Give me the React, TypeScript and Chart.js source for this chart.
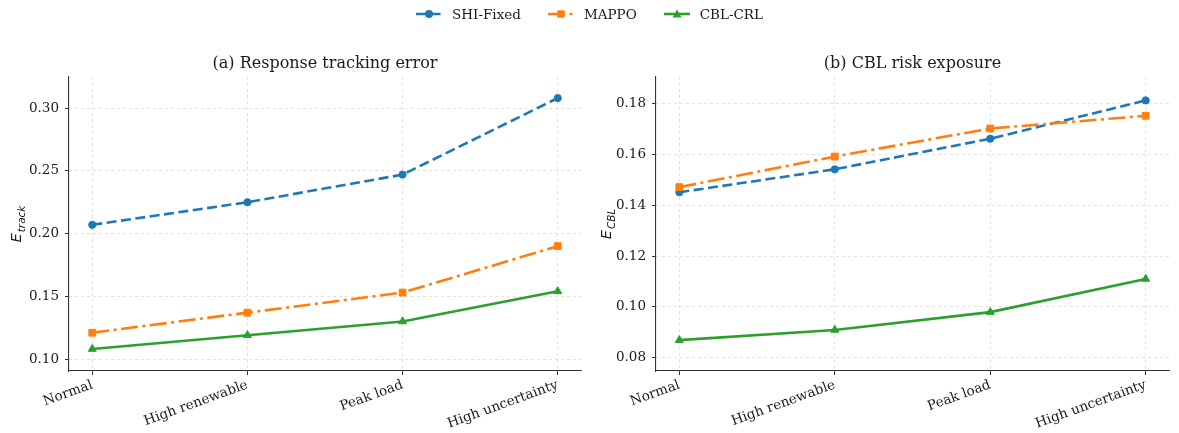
import { useEffect, useRef } from "react";
import { Chart, registerables } from "chart.js";

Chart.register(...registerables);

// scenario categories on the x axis
const categories = ["Normal", "High renewable", "Peak load", "High uncertainty"];
const seriesNames = ["SHI-Fixed", "MAPPO", "CBL-CRL"];

// (a) response tracking error
const trackShi = [0.207, 0.225, 0.247, 0.308];
const trackMappo = [0.121, 0.137, 0.153, 0.19];
const trackCbl = [0.108, 0.119, 0.13, 0.154];
const trackTicks = [0.1, 0.15, 0.2, 0.25, 0.3];

// (b) CBL risk exposure
const cblShi = [0.145, 0.154, 0.166, 0.181];
const cblMappo = [0.147, 0.159, 0.17, 0.175];
const cblCbl = [0.087, 0.091, 0.098, 0.111];
const cblTicks = [0.08, 0.1, 0.12, 0.14, 0.16, 0.18];

const colors = ["#1f77b4", "#ff7f0e", "#2ca02c"];
const dashes = [[10, 4.5], [17, 4.5, 3, 4.5], []];
const pointStyles = ["circle", "rect", "triangle"];
const pointRadii = [3.6, 4.8, 4.6];

const serif = '"DejaVu Serif", serif';
const textColor = "#1a1a1a";
const axisColor = "#333";
const gridColor = "rgba(176,176,176,0.45)";
const tickSize = 13.5;

type PanelProps = {
  left: number;
  width: number;
  title: string;
  sub: string;
  values: number[][];
  yTicks: number[];
  yMin: number;
  yMax: number;
  yWidth: number;
  padRight: number;
};

function Panel(props: PanelProps) {
  const canvasRef = useRef<HTMLCanvasElement | null>(null);

  useEffect(() => {
    if (!canvasRef.current) return;
    const { title, sub, values, yTicks, yMin, yMax, yWidth, padRight } = props;

    // panel title + mathtext-like y label (E with subscript)
    const textPlugin = {
      id: "panelText",
      afterDraw(chart: any) {
        const { ctx, chartArea } = chart;
        ctx.save();
        ctx.fillStyle = textColor;
        ctx.font = `16px ${serif}`;
        ctx.textAlign = "center";
        ctx.textBaseline = "middle";
        ctx.fillText(title, (chartArea.left + chartArea.right) / 2, 64);

        const cy = (chartArea.top + chartArea.bottom) / 2;
        ctx.translate(16, cy);
        ctx.rotate(-Math.PI / 2);
        ctx.textAlign = "left";
        ctx.textBaseline = "alphabetic";
        ctx.font = 'italic 14.5px "DejaVu Sans"';
        const eW = ctx.measureText("E").width;
        ctx.font = 'italic 10.5px "DejaVu Sans"';
        const sW = ctx.measureText(sub).width;
        const total = eW + sW + 1;
        ctx.font = 'italic 14.5px "DejaVu Sans"';
        ctx.fillText("E", -total / 2, 5);
        ctx.font = 'italic 10.5px "DejaVu Sans"';
        ctx.fillText(sub, -total / 2 + eW + 1, 9);
        ctx.restore();
      },
    };

    const chart = new Chart(canvasRef.current, {
      type: "line",
      data: {
        datasets: values.map((vals, i) => ({
          label: seriesNames[i],
          data: vals.map((v, j) => ({ x: j, y: v })),
          borderColor: colors[i],
          backgroundColor: colors[i],
          borderWidth: 2.6,
          borderDash: dashes[i],
          borderCapStyle: "butt",
          pointStyle: pointStyles[i],
          pointRadius: pointRadii[i],
          pointBorderWidth: 1,
          pointBorderColor: colors[i],
          pointBackgroundColor: colors[i],
          tension: 0,
          order: 3 - i,
        })),
      },
      options: {
        animation: false,
        responsive: false,
        layout: { padding: { top: 77, right: padRight, left: 0, bottom: 0 } },
        plugins: { legend: { display: false }, tooltip: { enabled: false } },
        scales: {
          x: {
            type: "linear",
            min: -0.15,
            max: 3.15,
            afterBuildTicks: (s: any) => {
              s.ticks = categories.map((_, j) => ({ value: j }));
            },
            afterFit: (s: any) => {
              s.height = 62;
            },
            ticks: {
              callback: (v: any) => categories[v],
              autoSkip: false,
              minRotation: 20,
              maxRotation: 20,
              padding: 2,
              color: textColor,
              font: { family: serif, size: tickSize },
            },
            grid: {
              color: gridColor,
              lineWidth: 0.8,
              tickLength: 4,
              tickColor: axisColor,
              tickWidth: 1,
            },
            border: { color: axisColor, width: 1.1, dash: [3, 3] },
          },
          y: {
            type: "linear",
            min: yMin,
            max: yMax,
            afterBuildTicks: (s: any) => {
              s.ticks = yTicks.map((v) => ({ value: v }));
            },
            afterFit: (s: any) => {
              s.width = yWidth;
            },
            ticks: {
              callback: (v: any) => Number(v).toFixed(2),
              padding: 6,
              color: textColor,
              font: { family: serif, size: tickSize },
            },
            grid: {
              color: gridColor,
              lineWidth: 0.8,
              tickLength: 4,
              tickColor: axisColor,
              tickWidth: 1,
            },
            border: { color: axisColor, width: 1.1, dash: [3, 3] },
          },
        },
      } as any,
      plugins: [textPlugin],
    });

    return () => {
      chart.destroy();
    };
  }, []);

  return (
    <div style={{ position: "absolute", left: props.left, top: 0, width: props.width, height: 433 }}>
      <canvas ref={canvasRef} width={props.width} height={433}></canvas>
    </div>
  );
}

function LegendIcon({ i }: { i: number }) {
  const c = colors[i];
  return (
    <svg width={26} height={12} style={{ display: "block" }}>
      <line
        x1={0}
        y1={6}
        x2={26}
        y2={6}
        stroke={c}
        strokeWidth={2.6}
        strokeDasharray={dashes[i].length ? dashes[i].join(" ") : undefined}
      />
      {i === 0 && <circle cx={13} cy={6} r={4} fill={c} />}
      {i === 1 && <rect x={9.3} y={2.3} width={7.4} height={7.4} fill={c} />}
      {i === 2 && <polygon points="13,1.5 17.5,9.5 8.5,9.5" fill={c} />}
    </svg>
  );
}

export default function App() {
  return (
    <div
      style={{
        position: "absolute",
        left: 0,
        top: 0,
        width: 1179,
        height: 433,
        overflow: "hidden",
        background: "#fff",
      }}
    >
      <Panel
        left={0}
        width={590}
        title="(a) Response tracking error"
        sub="track"
        values={[trackShi, trackMappo, trackCbl]}
        yTicks={trackTicks}
        yMin={0.0905}
        yMax={0.3248}
        yWidth={69}
        padRight={9}
      />
      <Panel
        left={590}
        width={589}
        title="(b) CBL risk exposure"
        sub="CBL"
        values={[cblShi, cblMappo, cblCbl]}
        yTicks={cblTicks}
        yMin={0.0749}
        yMax={0.1902}
        yWidth={66}
        padRight={10}
      />
      <div
        style={{
          position: "absolute",
          top: 6,
          left: 0,
          width: 1179,
          display: "flex",
          justifyContent: "center",
          gap: 27,
          fontFamily: serif,
          fontSize: 13.5,
          color: textColor,
        }}
      >
        {seriesNames.map((n, i) => (
          <div key={n} style={{ display: "flex", alignItems: "center", gap: 10 }}>
            <LegendIcon i={i} />
            <span>{n}</span>
          </div>
        ))}
      </div>
    </div>
  );
}
